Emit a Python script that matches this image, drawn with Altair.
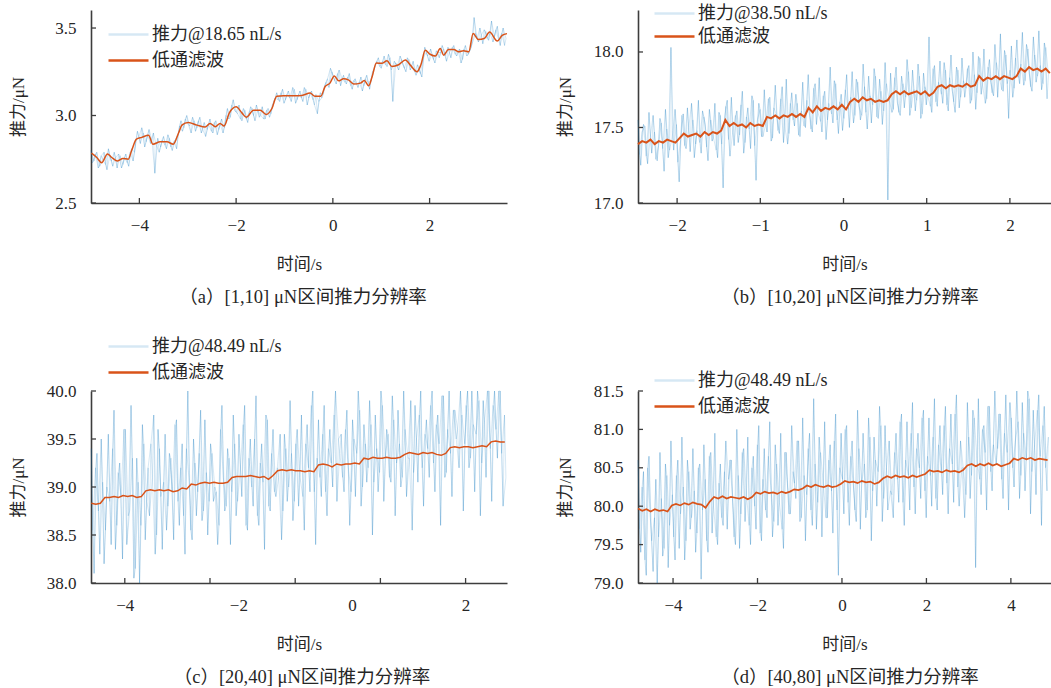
import altair as alt
import pandas as pd

FONT = "Liberation Serif, Noto Sans CJK SC, serif"
AXIS_COLOR = "#3d3d3d"
TEXT_COLOR = "#262626"
NOISE_COLOR = "rgba(0,114,189,0.16)"
FILT_COLOR = "#D95319"
FILT_LABEL = "低通滤波"
X_TITLE = "时间/s"
Y_TITLE = "推力/μN"
VIEW_W, VIEW_H = 1051, 688

# ---------------- panel (a) ----------------
a_label = "推力@18.65 nL/s"
a_caption = "（a）[1,10] μN区间推力分辨率"
a_noise_t0, a_noise_dt = -5.0, 0.06
a_noise = [2.80, 2.74, 2.79, 2.71, 2.75, 2.72, 2.81, 2.74, 2.79, 2.70,
           2.77, 2.72, 2.78, 2.71, 2.81, 2.79, 2.91, 2.84, 2.90, 2.85,
           2.92, 2.86, 2.67, 2.87, 2.82, 2.88, 2.81, 2.87, 2.80, 2.86,
           2.89, 2.97, 2.93, 3.00, 2.94, 2.99, 2.91, 2.97, 2.90, 2.96,
           2.92, 2.98, 2.90, 2.97, 2.92, 2.98, 2.93, 3.04, 2.99, 3.09,
           3.02, 3.06, 2.97, 3.03, 2.96, 3.05, 3.00, 3.06, 2.99, 3.05,
           2.98, 3.04, 3.01, 3.08, 3.13, 3.08, 3.15, 3.09, 3.14, 3.08,
           3.15, 3.09, 3.14, 3.08, 3.15, 3.10, 3.14, 3.06, 3.01, 3.13,
           3.12, 3.19, 3.16, 3.25, 3.20, 3.24, 3.17, 3.23, 3.18, 3.24,
           3.15, 3.21, 3.16, 3.22, 3.17, 3.23, 3.15, 3.25, 3.29, 3.33,
           3.27, 3.34, 3.28, 3.33, 3.08, 3.30, 3.26, 3.32, 3.27, 3.33,
           3.26, 3.31, 3.23, 3.27, 3.22, 3.39, 3.34, 3.38, 3.32, 3.37,
           3.33, 3.40, 3.34, 3.39, 3.33, 3.40, 3.34, 3.38, 3.32, 3.40,
           3.35, 3.39, 3.56, 3.44, 3.50, 3.41, 3.48, 3.43, 3.54, 3.45,
           3.51, 3.40, 3.50, 3.44]
# interleaved samples (half a step later)
a_noise2 = [2.73, 2.78, 2.70, 2.77, 2.79, 2.69, 2.77, 2.71, 2.76, 2.78,
            2.70, 2.76, 2.73, 2.79, 2.74, 2.86, 2.88, 2.93, 2.82, 2.89,
            2.84, 2.90, 2.83, 2.79, 2.86, 2.83, 2.89, 2.82, 2.85, 2.81,
            2.94, 2.91, 2.98, 2.95, 2.90, 2.97, 2.93, 2.99, 2.92, 2.88,
            2.95, 2.91, 2.96, 2.89, 2.95, 2.90, 3.00, 2.98, 3.06, 3.03,
            3.01, 2.98, 3.04, 2.98, 3.02, 3.04, 2.97, 3.03, 3.00, 2.98,
            3.03, 2.99, 3.06, 3.10, 3.09, 3.13, 3.07, 3.12, 3.10, 3.16,
            3.07, 3.12, 3.10, 3.16, 3.06, 3.13, 3.09, 3.12, 3.08, 3.10,
            3.17, 3.21, 3.27, 3.22, 3.18, 3.26, 3.21, 3.19, 3.22, 3.17,
            3.20, 3.18, 3.19, 3.14, 3.21, 3.19, 3.20, 3.26, 3.31, 3.28,
            3.31, 3.29, 3.35, 3.26, 3.31, 3.28, 3.34, 3.29, 3.25, 3.32,
            3.28, 3.25, 3.29, 3.24, 3.33, 3.36, 3.31, 3.35, 3.30, 3.36,
            3.36, 3.38, 3.31, 3.36, 3.39, 3.35, 3.37, 3.30, 3.38, 3.34,
            3.37, 3.42, 3.47, 3.42, 3.46, 3.49, 3.44, 3.47, 3.42, 3.49,
            3.43, 3.47, 3.40]
a_filt_t = [-4.99, -4.88, -4.78, -4.66, -4.57, -4.45, -4.34, -4.23, -4.16, -4.06,
            -3.95, -3.81, -3.72, -3.57, -3.43, -3.30, -3.19, -3.12, -2.99, -2.81,
            -2.64, -2.54, -2.43, -2.33, -2.25, -2.14, -2.00, -1.88, -1.79, -1.64,
            -1.50, -1.38, -1.26, -1.16, -1.02, -0.81, -0.64, -0.47, -0.37, -0.25,
            -0.16, -0.06, 0.03, 0.12, 0.22, 0.32, 0.43, 0.57, 0.65, 0.74,
            0.81, 0.90, 1.01, 1.12, 1.22, 1.36, 1.50, 1.61, 1.74, 1.82,
            1.91, 2.01, 2.12, 2.22, 2.29, 2.39, 2.50, 2.60, 2.70, 2.81,
            2.90, 3.01, 3.13, 3.24, 3.40, 3.50, 3.60]
a_filt_v = [2.785, 2.76, 2.73, 2.78, 2.76, 2.74, 2.755, 2.75, 2.80, 2.865,
            2.875, 2.887, 2.836, 2.85, 2.85, 2.836, 2.90, 2.945, 2.96, 2.945,
            2.934, 2.955, 2.936, 2.955, 2.94, 3.015, 3.05, 3.015, 2.99, 3.03,
            3.03, 3.006, 3.04, 3.11, 3.113, 3.113, 3.115, 3.128, 3.11, 3.11,
            3.166, 3.185, 3.226, 3.198, 3.21, 3.204, 3.18, 3.185, 3.20, 3.17,
            3.22, 3.30, 3.298, 3.313, 3.28, 3.29, 3.317, 3.285, 3.25, 3.29,
            3.373, 3.35, 3.34, 3.383, 3.345, 3.377, 3.377, 3.364, 3.37, 3.364,
            3.468, 3.434, 3.44, 3.477, 3.426, 3.458, 3.468]

# ---------------- panel (b) ----------------
b_label = "推力@38.50 nL/s"
b_caption = "（b）[10,20] μN区间推力分辨率"
b_noise_t0, b_noise_dt = -2.47, 0.033
b_noise = [17.55, 17.25, 17.52, 17.31, 17.60, 17.33, 17.47, 17.28, 17.56, 17.36,
           17.62, 17.30, 18.03, 17.35, 17.52, 17.14, 17.58, 17.38, 17.63, 17.34,
           17.55, 17.39, 17.68, 17.33, 17.57, 17.37, 17.62, 17.41, 17.66, 17.30,
           17.58, 17.10, 17.64, 17.42, 17.70, 17.38, 17.61, 17.45, 17.74, 17.40,
           17.63, 17.36, 17.68, 17.15, 17.66, 17.44, 17.75, 17.47, 17.70, 17.43,
           17.78, 17.48, 17.69, 17.40, 17.82, 17.46, 17.73, 17.51, 17.66, 17.44,
           17.80, 17.50, 17.85, 17.49, 17.76, 17.52, 17.83, 17.47, 17.74, 17.55,
           17.90, 17.53, 17.79, 17.46, 17.72, 17.56, 17.85, 17.50, 17.87, 17.58,
           17.80, 17.55, 17.92, 17.60, 17.84, 17.53, 17.89, 17.57, 17.82, 17.52,
           17.93, 17.02, 17.86, 17.62, 17.90, 17.60, 17.84, 17.63, 17.95, 17.58,
           17.88, 17.61, 17.92, 17.56, 17.86, 17.65, 18.10, 17.60, 17.91, 17.64,
           17.94, 17.66, 17.88, 17.61, 17.98, 17.67, 17.90, 17.63, 17.96, 17.70,
           17.89, 17.66, 18.00, 17.62, 17.97, 17.72, 18.02, 17.69, 17.95, 17.73,
           18.05, 17.70, 18.12, 17.74, 17.98, 17.56, 18.04, 17.76, 18.08, 17.79,
           18.13, 17.81, 18.02, 17.77, 18.10, 17.80, 18.14, 17.75, 18.06, 17.69]
b_noise2 = [17.32, 17.47, 17.51, 17.26, 17.44, 17.58, 17.29, 17.38, 17.53, 17.21,
            17.49, 17.35, 17.44, 17.62, 17.27, 17.41, 17.59, 17.36, 17.50, 17.66,
            17.30, 17.48, 17.40, 17.61, 17.52, 17.28, 17.55, 17.43, 17.35, 17.60,
            17.39, 17.56, 17.68, 17.31, 17.47, 17.58, 17.40, 17.65, 17.33, 17.57,
            17.49, 17.71, 17.38, 17.55, 17.62, 17.44, 17.52, 17.69, 17.41, 17.63,
            17.58, 17.46, 17.77, 17.50, 17.39, 17.66, 17.55, 17.72, 17.45, 17.61,
            17.51, 17.68, 17.58, 17.47, 17.79, 17.60, 17.54, 17.71, 17.42, 17.66,
            17.59, 17.81, 17.55, 17.67, 17.48, 17.75, 17.62, 17.70, 17.53, 17.82,
            17.64, 17.58, 17.77, 17.49, 17.71, 17.65, 17.84, 17.56, 17.74, 17.61,
            17.79, 17.68, 17.60, 17.83, 17.66, 17.58, 17.79, 17.70, 17.87, 17.63,
            17.75, 17.68, 17.84, 17.59, 17.77, 17.71, 17.64, 17.89, 17.67, 17.80,
            17.72, 17.93, 17.65, 17.83, 17.74, 17.60, 17.88, 17.70, 17.81, 17.76,
            17.91, 17.68, 17.85, 17.73, 17.96, 17.78, 17.66, 17.90, 17.80, 17.71,
            17.93, 17.84, 17.75, 18.01, 17.79, 17.88, 17.70, 17.96, 17.83, 17.92,
            17.78, 18.05, 17.86, 17.74, 17.98, 17.84, 17.91, 17.79, 18.03, 17.85]
b_filt_t0, b_filt_dt = -2.47, 0.05
b_filt = [17.39, 17.41, 17.40, 17.42, 17.39, 17.41, 17.40, 17.42, 17.41, 17.40,
          17.43, 17.46, 17.44, 17.45, 17.46, 17.44, 17.47, 17.45, 17.47, 17.46,
          17.48, 17.55, 17.51, 17.53, 17.51, 17.52, 17.50, 17.53, 17.51, 17.52,
          17.51, 17.57, 17.56, 17.58, 17.56, 17.58, 17.57, 17.59, 17.57, 17.59,
          17.57, 17.63, 17.60, 17.64, 17.61, 17.63, 17.62, 17.64, 17.62, 17.65,
          17.62, 17.67, 17.69, 17.67, 17.70, 17.68, 17.69, 17.67, 17.68, 17.67,
          17.68, 17.72, 17.74, 17.72, 17.74, 17.72, 17.73, 17.74, 17.72, 17.74,
          17.71, 17.73, 17.77, 17.78, 17.76, 17.78, 17.77, 17.78, 17.77, 17.79,
          17.77, 17.78, 17.84, 17.81, 17.83, 17.82, 17.84, 17.82, 17.84, 17.83,
          17.82, 17.84, 17.89, 17.87, 17.90, 17.88, 17.89, 17.87, 17.89, 17.86]

# ---------------- panel (c) ----------------
c_label = "推力@48.49 nL/s"
c_caption = "（c）[20,40] μN区间推力分辨率"
c_noise_t0, c_noise_dt = -4.59, 0.05
c_noise = [39.40, 38.10, 39.35, 38.30, 39.05, 38.55, 39.55, 38.40, 39.80, 38.60,
           39.25, 38.25, 39.60, 38.70, 39.85, 38.05, 39.30, 38.00, 39.65, 38.45,
           39.20, 39.45, 39.75, 38.50, 39.40, 38.35, 39.55, 38.80, 39.30, 38.45,
           39.70, 38.60, 39.45, 38.30, 40.00, 38.55, 39.50, 38.70, 39.35, 38.65,
           39.70, 38.50, 39.45, 38.85, 38.95, 38.60, 39.85, 38.75, 39.40, 38.40,
           39.75, 38.70, 39.55, 38.90, 39.85, 38.55, 39.50, 38.80, 39.95, 38.60,
           39.45, 38.35, 39.70, 38.75, 39.60, 38.90, 39.10, 38.45, 39.55, 38.85,
           39.90, 38.65, 39.45, 38.80, 39.75, 38.55, 39.65, 38.95, 40.00, 38.40,
           39.70, 38.90, 39.85, 38.70, 39.60, 39.00, 40.00, 39.50, 39.55, 38.95,
           39.80, 38.60, 39.70, 38.90, 40.00, 38.80, 39.65, 39.05, 39.90, 38.50,
           39.75, 38.95, 40.00, 38.85, 39.60, 39.10, 39.95, 38.70, 39.80, 39.00,
           40.00, 38.90, 39.30, 38.55, 39.85, 39.05, 40.00, 38.80, 39.70, 39.10,
           40.00, 38.95, 39.75, 38.60, 39.95, 39.15, 40.00, 38.90, 39.80, 39.60,
           40.00, 38.75, 39.85, 39.20, 40.00, 38.95, 40.00, 38.70, 39.90, 39.10,
           40.00, 38.85, 40.00, 39.30, 40.00, 38.80, 39.10]
c_noise2 = [38.55, 39.20, 38.75, 39.50, 38.20, 39.00, 38.85, 39.40, 38.35, 39.15,
            38.90, 39.60, 38.40, 38.75, 39.30, 38.15, 39.05, 38.60, 39.45, 38.85,
            38.70, 39.10, 38.30, 39.60, 38.90, 39.05, 38.55, 39.35, 38.95, 39.65,
            38.85, 39.20, 38.70, 39.40, 39.05, 38.45, 39.25, 38.95, 39.80, 38.75,
            39.15, 38.85, 39.35, 39.00, 38.40, 39.60, 39.10, 38.80, 39.30, 38.95,
            39.45, 38.85, 39.20, 39.65, 38.60, 39.30, 39.00, 39.50, 38.70, 39.25,
            39.05, 39.75, 38.80, 39.35, 38.95, 39.20, 39.55, 38.75, 39.40, 39.00,
            39.35, 38.85, 39.60, 39.10, 38.90, 39.45, 39.20, 39.85, 38.95, 39.30,
            39.10, 39.55, 38.95, 39.40, 39.25, 39.75, 38.85, 39.35, 39.10, 39.60,
            39.20, 38.95, 39.50, 39.35, 39.80, 39.00, 39.45, 39.20, 39.65, 39.05,
            39.40, 39.15, 39.85, 39.30, 39.55, 39.05, 39.70, 39.25, 39.45, 39.10,
            39.60, 39.30, 39.90, 39.15, 39.50, 39.75, 39.20, 39.55, 39.40, 39.85,
            39.25, 39.65, 39.45, 39.95, 39.10, 39.60, 39.35, 39.80, 39.50, 39.20,
            39.75, 39.45, 40.00, 39.30, 39.65, 39.55, 39.90, 39.25, 39.70, 40.00,
            39.40, 39.85, 39.60, 40.00, 39.35, 39.75]
c_filt_t0, c_filt_dt = -4.59, 0.08
c_filt = [38.83, 38.82, 38.83, 38.89, 38.89, 38.90, 38.89, 38.91, 38.90, 38.91,
          38.89, 38.90, 38.96, 38.97, 38.96, 38.97, 38.96, 38.97, 38.95, 38.96,
          38.99, 38.98, 39.03, 39.02, 39.04, 39.05, 39.04, 39.05, 39.04, 39.04,
          39.05, 39.10, 39.11, 39.11, 39.11, 39.12, 39.11, 39.10, 39.11, 39.08,
          39.12, 39.17, 39.18, 39.17, 39.18, 39.17, 39.17, 39.16, 39.17, 39.16,
          39.23, 39.24, 39.23, 39.21, 39.24, 39.23, 39.24, 39.24, 39.25, 39.24,
          39.30, 39.29, 39.31, 39.30, 39.30, 39.31, 39.30, 39.30, 39.31, 39.34,
          39.36, 39.35, 39.34, 39.36, 39.35, 39.36, 39.34, 39.33, 39.35, 39.41,
          39.42, 39.41, 39.42, 39.42, 39.41, 39.42, 39.43, 39.42, 39.47, 39.48,
          39.47, 39.47]

# ---------------- panel (d) ----------------
d_label = "推力@48.49 nL/s"
d_caption = "（d）[40,80] μN区间推力分辨率"
d_noise_t0, d_noise_dt = -4.83, 0.065
d_noise = [80.60, 79.40, 80.45, 79.10, 80.65, 79.55, 79.85, 79.00, 80.70, 79.35,
           80.55, 79.20, 80.85, 79.60, 80.40, 79.45, 80.90, 79.30, 80.60, 79.70,
           80.75, 79.40, 80.50, 79.05, 80.80, 79.55, 80.65, 79.65, 80.95, 79.50,
           80.55, 79.75, 80.85, 80.35, 80.60, 79.60, 81.00, 79.45, 80.70, 79.80,
           80.90, 79.50, 80.65, 79.70, 81.05, 79.55, 80.75, 79.85, 81.10, 79.60,
           80.80, 79.75, 80.95, 79.45, 80.70, 79.90, 81.05, 80.30, 80.85, 79.80,
           81.15, 79.55, 80.75, 79.95, 81.40, 79.70, 80.90, 79.60, 81.10, 79.85,
           80.80, 79.65, 81.20, 79.10, 80.95, 79.90, 81.05, 79.75, 80.85, 79.95,
           81.25, 79.70, 80.95, 79.85, 81.15, 79.55, 80.90, 80.00, 81.30, 79.80,
           81.05, 79.95, 80.20, 79.85, 80.95, 80.05, 81.20, 79.75, 81.10, 79.95,
           81.35, 79.90, 80.95, 80.10, 81.25, 79.85, 81.15, 80.00, 81.40, 79.95,
           81.05, 80.15, 81.30, 79.90, 81.20, 80.05, 81.45, 80.00, 80.50, 79.85,
           81.35, 80.10, 81.25, 79.20, 81.40, 80.15, 81.05, 79.95, 81.30, 80.20,
           81.50, 80.75, 81.20, 80.10, 81.45, 79.95, 81.15, 80.25, 81.50, 80.10,
           81.35, 80.20, 81.50, 79.90, 81.25, 80.15, 81.45, 79.75, 81.30, 80.20]
d_noise2 = [79.70, 80.25, 79.30, 80.50, 79.85, 79.15, 80.35, 79.60, 80.10, 79.45,
            80.40, 79.75, 80.15, 79.30, 80.60, 79.90, 80.25, 79.55, 80.45, 79.85,
            80.20, 79.65, 80.55, 79.95, 80.35, 79.40, 80.70, 80.00, 79.60, 80.30,
            79.85, 80.45, 79.70, 80.60, 80.05, 79.50, 80.40, 79.90, 80.75, 80.15,
            79.75, 80.50, 80.00, 80.80, 79.65, 80.35, 79.95, 80.65, 80.20, 79.80,
            80.55, 80.05, 79.70, 80.70, 80.25, 79.90, 80.45, 80.10, 80.85, 79.85,
            80.40, 80.15, 80.95, 79.75, 80.55, 80.05, 80.70, 80.30, 79.85, 80.60,
            80.20, 80.85, 79.95, 80.50, 80.35, 81.00, 80.05, 80.65, 80.25, 79.80,
            80.75, 80.30, 80.55, 79.95, 80.90, 80.20, 80.60, 80.45, 81.05, 80.10,
            80.50, 80.85, 80.15, 80.70, 80.35, 81.10, 80.05, 80.60, 80.40, 80.95,
            80.25, 80.75, 80.50, 81.15, 80.20, 80.65, 80.40, 80.90, 80.10, 80.80,
            80.45, 81.05, 80.30, 80.75, 80.55, 81.20, 80.25, 80.85, 80.50, 80.15,
            80.90, 80.40, 81.15, 80.60, 80.35, 81.00, 80.70, 81.30, 80.45, 80.80,
            80.55, 81.20, 80.35, 80.95, 80.70, 81.35, 80.50, 80.85, 81.10, 80.40,
            80.95, 80.60, 81.40, 80.45, 80.80, 81.25, 80.65, 81.05, 80.50, 80.90]
d_filt_t0, d_filt_dt = -4.83, 0.1
d_filt = [79.97, 79.94, 79.96, 79.93, 79.96, 79.94, 79.95, 79.93, 80.01, 80.03,
          80.01, 80.04, 80.02, 80.05, 80.03, 80.02, 79.98, 80.06, 80.12, 80.10,
          80.13, 80.10, 80.12, 80.11, 80.10, 80.12, 80.09, 80.12, 80.18, 80.16,
          80.19, 80.17, 80.18, 80.16, 80.19, 80.17, 80.19, 80.22, 80.21, 80.23,
          80.27, 80.25, 80.28, 80.26, 80.25, 80.27, 80.25, 80.26, 80.29, 80.33,
          80.31, 80.32, 80.30, 80.33, 80.31, 80.32, 80.29, 80.31, 80.36, 80.39,
          80.37, 80.40, 80.38, 80.39, 80.37, 80.40, 80.38, 80.40, 80.42, 80.47,
          80.45, 80.46, 80.44, 80.47, 80.45, 80.46, 80.44, 80.47, 80.53, 80.55,
          80.52, 80.55, 80.53, 80.56, 80.53, 80.55, 80.52, 80.54, 80.56, 80.62,
          80.60, 80.63, 80.61, 80.63, 80.60, 80.62, 80.61, 80.60]

# axis label values and tick-mark positions
a_xlabels, a_xticks = [-4, -2, 0, 2], [-4, -2, 0, 2]
a_ylabels = [2.5, 3.0, 3.5]
b_xlabels, b_xticks = [-2, -1, 0, 1, 2], [-2, -1, 0, 1, 2]
b_ylabels = [17.0, 17.5, 18.0]
c_xlabels, c_xticks = [-4, -2, 0, 2], [-4, -2.5, -1, 0.5, 2]
c_ylabels = [38.0, 38.5, 39.0, 39.5, 40.0]
d_xlabels, d_xticks = [-4, -2, 0, 2, 4], [-4, -2, 0, 2, 4]
d_ylabels = [79.0, 79.5, 80.0, 80.5, 81.0, 81.5]


def times(t0, dt, vals):
    return [t0 + dt * i for i in range(len(vals))]


def noise_frame(t0, dt, v1, v2, label):
    # two interleaved sample streams, drawn as overlapping translucent traces
    d1 = pd.DataFrame({"t": times(t0, dt, v1), "v": v1, "k": "p"})
    d2 = pd.DataFrame({"t": times(t0 + dt / 2, dt, v2), "v": v2, "k": "q"})
    d3 = pd.concat([d1, d2]).sort_values("t").reset_index(drop=True)
    d3["k"] = "r"
    df = pd.concat([d1, d2, d3]).reset_index(drop=True)
    df["s"] = label
    return df


def make_panel(label, caption, n_df, filt_t, filt_v, filt_w, filt_interp,
               xdom, ydom, xr, yr, xlabels, xticks, ylabels,
               legend_xy, row_pad, caption_xy):
    f_df = pd.DataFrame({"t": filt_t, "v": filt_v, "s": FILT_LABEL})
    xs = alt.Scale(domain=xdom, range=xr, nice=False, zero=False)
    ys = alt.Scale(domain=ydom, range=yr, nice=False, zero=False)
    cs = alt.Scale(domain=[label, FILT_LABEL], range=[NOISE_COLOR, FILT_COLOR])
    common = dict(ticks=False, tickSize=0, grid=False,
                  domainColor=AXIS_COLOR, domainWidth=1.6,
                  labelFont=FONT, labelFontSize=17, labelColor=TEXT_COLOR,
                  titleFont=FONT, titleFontSize=17, titleColor=TEXT_COLOR,
                  titleFontWeight="normal", titleBaseline="middle",
                  labelFlush=False, labelOverlap=False)
    xaxis = alt.Axis(orient="bottom", offset=yr[0] - VIEW_H, values=xlabels,
                     format="d", labelPadding=14, title=X_TITLE,
                     titleX=(xr[0] + xr[1]) / 2, titleY=61, **common)
    yaxis = alt.Axis(orient="left", offset=-xr[0], values=ylabels, format=".1f",
                     labelPadding=15, title=Y_TITLE, titleX=-73,
                     titleY=(yr[0] + yr[1]) / 2, **common)
    leg = alt.Legend(orient="none", legendX=legend_xy[0], legendY=legend_xy[1],
                     title=None, symbolType="M-2,0H2", symbolSize=400,
                     symbolStrokeWidth=2.5, labelFont=FONT, labelFontSize=18,
                     labelColor=TEXT_COLOR, labelOffset=12, rowPadding=row_pad,
                     padding=0, labelLimit=400)
    noise = alt.Chart(n_df).mark_line(strokeWidth=1.0).encode(
        x=alt.X("t:Q", scale=xs, axis=xaxis),
        y=alt.Y("v:Q", scale=ys, axis=yaxis),
        color=alt.Color("s:N", scale=cs, legend=leg),
        detail="k:N",
    )
    filt = alt.Chart(f_df).mark_line(strokeWidth=filt_w, interpolate=filt_interp).encode(
        x=alt.X("t:Q", scale=xs, axis=xaxis),
        y=alt.Y("v:Q", scale=ys, axis=yaxis),
        color=alt.Color("s:N", scale=cs, legend=leg),
    )
    xt = alt.Chart(pd.DataFrame({"t": xticks})).mark_rule(
        color=AXIS_COLOR, strokeWidth=1.3).encode(
        x=alt.X("t:Q", scale=xs, axis=xaxis),
        y=alt.value(yr[0]), y2=alt.value(yr[0] - 5))
    yt = alt.Chart(pd.DataFrame({"v": ylabels})).mark_rule(
        color=AXIS_COLOR, strokeWidth=1.3).encode(
        y=alt.Y("v:Q", scale=ys, axis=yaxis),
        x=alt.value(xr[0]), x2=alt.value(xr[0] + 5))
    cap = alt.Chart(pd.DataFrame({"c": [caption]})).mark_text(
        font=FONT, fontSize=18.5, color=TEXT_COLOR, align="center",
        baseline="middle").encode(
        text="c:N", x=alt.value(caption_xy[0]), y=alt.value(caption_xy[1]))
    return alt.layer(noise, filt, xt, yt, cap)


pa = make_panel(a_label, a_caption,
                noise_frame(a_noise_t0, a_noise_dt, a_noise, a_noise2, a_label),
                a_filt_t, a_filt_v, 1.5, "monotone",
                [-5.0, 3.6], [2.5, 3.603], [91, 507], [203, 10],
                a_xlabels, a_xticks, a_ylabels, (117, 23), 5, (303, 297))
pb = make_panel(b_label, b_caption,
                noise_frame(b_noise_t0, b_noise_dt, b_noise, b_noise2, b_label),
                times(b_filt_t0, b_filt_dt, b_filt), b_filt, 2.0, "linear",
                [-2.47, 2.494], [17.0, 18.278], [638, 1051], [203, 10],
                b_xlabels, b_xticks, b_ylabels, (663, 2), 2, (850, 297))
pc = make_panel(c_label, c_caption,
                noise_frame(c_noise_t0, c_noise_dt, c_noise, c_noise2, c_label),
                times(c_filt_t0, c_filt_dt, c_filt), c_filt, 1.5, "linear",
                [-4.595, 2.729], [38.0, 40.0], [91, 507], [583, 391],
                c_xlabels, c_xticks, c_ylabels, (117, 335), 5, (302, 677))
pd_ = make_panel(d_label, d_caption,
                 noise_frame(d_noise_t0, d_noise_dt, d_noise, d_noise2, d_label),
                 times(d_filt_t0, d_filt_dt, d_filt), d_filt, 1.7, "linear",
                 [-4.83, 4.95], [79.0, 81.5], [638, 1051], [583, 391],
                 d_xlabels, d_xticks, d_ylabels, (663, 369), 5, (850, 677))

chart = alt.layer(pa, pb, pc, pd_).resolve_scale(
    x="independent", y="independent", color="independent"
).properties(
    width=VIEW_W, height=VIEW_H,
    autosize=alt.AutoSizeParams(type="none"),
    padding=0,
).configure_view(stroke=None)

chart.save("out.html", embed_options={"renderer": "svg", "actions": False})
